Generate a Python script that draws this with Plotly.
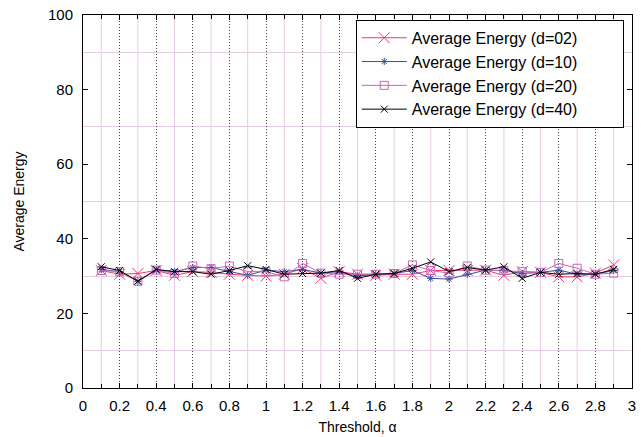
import plotly.graph_objects as go

thresholds = [round(0.1 * i, 1) for i in range(1, 30)]

energy_d02 = [31.5, 30.5, 30.7, 31.5, 30.2, 31.2, 31.0, 30.5, 30.2, 30.0,
              30.5, 32.0, 29.4, 31.2, 30.5, 30.2, 30.5, 30.5, 31.5, 31.5,
              31.5, 31.6, 30.2, 31.2, 31.0, 29.8, 29.8, 30.8, 33.0]
energy_d10 = [31.8, 31.2, 28.6, 31.6, 31.2, 32.3, 32.3, 31.2, 30.2, 31.6,
              31.2, 31.8, 30.8, 31.2, 30.0, 30.5, 30.7, 31.5, 29.4, 29.2,
              30.5, 31.6, 31.5, 30.7, 31.0, 31.6, 30.5, 30.5, 31.5]
energy_d20 = [31.5, 31.2, 28.6, 31.6, 30.7, 32.7, 32.0, 32.7, 31.2, 31.2,
              29.8, 33.4, 30.8, 30.5, 30.5, 30.5, 30.7, 33.0, 31.5, 30.8,
              32.7, 31.6, 31.5, 31.2, 31.0, 33.4, 32.1, 30.5, 30.8]
energy_d40 = [32.5, 31.5, 28.6, 31.8, 31.2, 31.2, 30.5, 31.5, 32.8, 31.8,
              30.5, 30.7, 30.8, 31.5, 29.4, 30.5, 30.7, 32.1, 33.8, 31.2,
              32.3, 31.6, 32.5, 29.4, 31.0, 30.5, 30.7, 30.5, 31.8]

x_minor_grid = [round(0.1 + 0.2 * i, 1) for i in range(15)]

series = [
    ("Average Energy (d=02)", energy_d02, "#f0386b", "x-thin-open", 11),
    ("Average Energy (d=10)", energy_d10, "#3a4d9c", "asterisk-open", 6),
    ("Average Energy (d=20)", energy_d20, "#c566b8", "square-open", 8),
    ("Average Energy (d=40)", energy_d40, "#000000", "x-thin-open", 7),
]

pad = "\u00a0" * 9

fig = go.Figure()
for name, vals, color, sym, size in series:
    fig.add_trace(go.Scatter(
        x=thresholds, y=vals, name=name + pad, mode="lines+markers",
        line=dict(color=color, width=1),
        marker=dict(symbol=sym, size=size, color=color,
                    line=dict(color=color, width=1)),
    ))

font = "Liberation Sans, Arial, sans-serif"
pink = "#e6cde2"

# light vertical grid lines at the odd tenths
for xv in x_minor_grid:
    fig.add_shape(type="line", xref="x", yref="paper", x0=xv, x1=xv, y0=0, y1=1,
                  line=dict(color=pink, width=1), layer="below")

fig.update_layout(
    width=641, height=437,
    margin=dict(l=83, r=9, t=15, b=49),
    paper_bgcolor="white", plot_bgcolor="white",
    font=dict(family=font, size=15, color="black"),
    legend=dict(x=0.985, y=0.987, xanchor="right", yanchor="top",
                bgcolor="white", bordercolor="black", borderwidth=1,
                font=dict(size=16), tracegroupgap=0, itemwidth=45),
    showlegend=True,
)
fig.update_xaxes(
    range=[0, 3], tickmode="linear", tick0=0, dtick=0.2,
    title=dict(text="Threshold, α", font=dict(size=14), standoff=9),
    showline=True, linecolor="black", linewidth=1, mirror="ticks",
    ticks="inside", ticklen=5, tickcolor="black", ticklabelstandoff=4,
    showgrid=True, gridcolor="#444444", griddash="1px,2px", gridwidth=1,
    zeroline=False, automargin=False,
    minor=dict(dtick=0.1, tick0=0, ticks="inside", ticklen=4,
               tickcolor="black", showgrid=False),
)
fig.update_yaxes(
    range=[0, 100], tickmode="linear", tick0=0, dtick=20,
    title=dict(text="Average Energy", font=dict(size=14), standoff=20),
    showline=True, linecolor="black", linewidth=1, mirror="ticks",
    ticks="inside", ticklen=5, tickcolor="black", ticklabelstandoff=6,
    showgrid=False, zeroline=False, automargin=False,
    minor=dict(dtick=10, tick0=0, ticks="", showgrid=True, gridcolor=pink, gridwidth=1),
)

fig.write_html("out.html")
